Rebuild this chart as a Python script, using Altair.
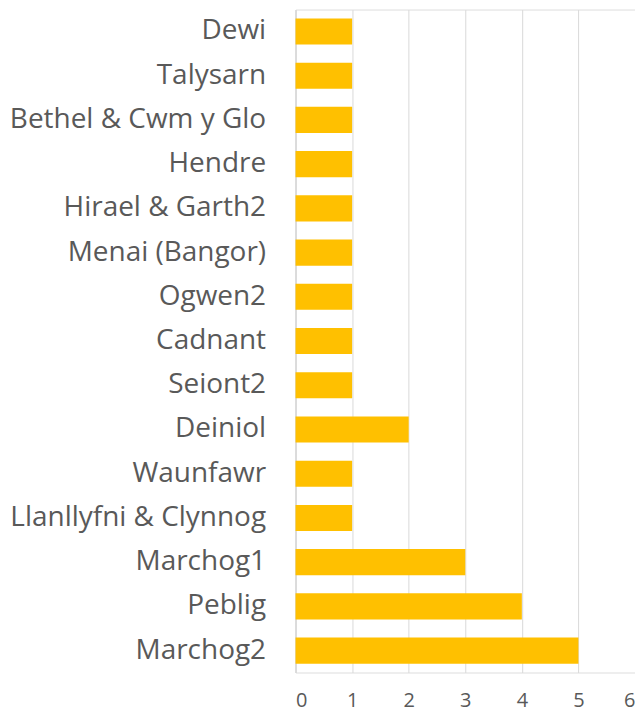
import altair as alt
import pandas as pd

categories = ["Dewi", "Talysarn", "Bethel & Cwm y Glo", "Hendre", "Hirael & Garth2",
              "Menai (Bangor)", "Ogwen2", "Cadnant", "Seiont2", "Deiniol", "Waunfawr",
              "Llanllyfni & Clynnog", "Marchog1", "Peblig", "Marchog2"]
values = [1, 1, 1, 1, 1, 1, 1, 1, 1, 2, 1, 1, 3, 4, 5]
x_ticks = [0, 1, 2, 3, 4, 5, 6]

df = pd.DataFrame({"cat": categories, "val": values})

chart = alt.Chart(df).mark_bar(color="#FFC000").encode(
    x=alt.X("val:Q", scale=alt.Scale(domain=[0, 6], nice=False),
            axis=alt.Axis(values=x_ticks, title=None, grid=True, gridColor="#D9D9D9",
                          domain=False, ticks=False, labelFont="Open Sans", labelFontSize=20,
                          labelColor="#595959", labelPadding=18, format="d")),
    y=alt.Y("cat:N", sort=categories, scale=alt.Scale(paddingInner=0.41, paddingOuter=0.2),
            axis=alt.Axis(title=None, ticks=False, domainColor="#D9D9D9", domainWidth=1.5,
                          labelFont="Open Sans", labelFontSize=28, labelColor="#595959",
                          labelPadding=30, labelLimit=400)),
).properties(
    width=340, height=664,
    autosize=alt.AutoSizeParams(type="none"),
    padding={"left": 288, "top": 1, "right": 0, "bottom": 40},
).configure_view(stroke=None).configure(background="white")

chart.save("out.html", embed_options={"renderer": "svg", "actions": False})
